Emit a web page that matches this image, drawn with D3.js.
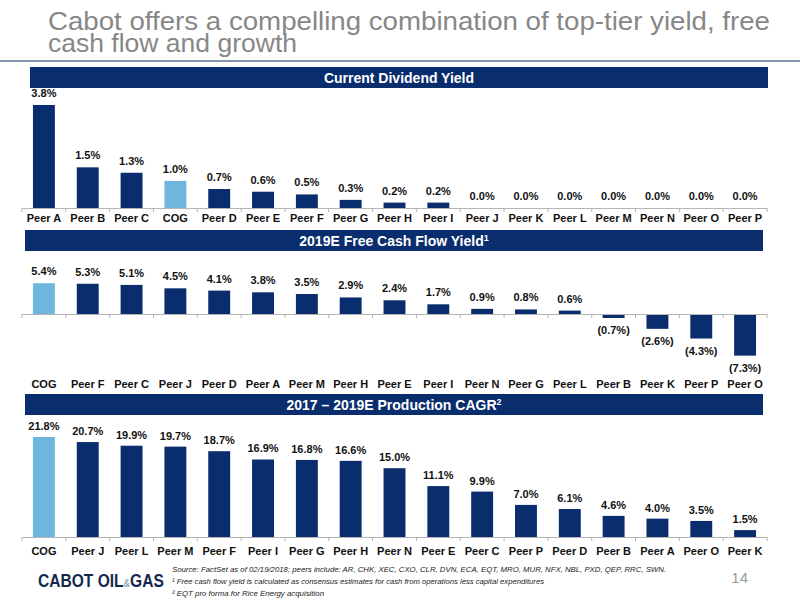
<!DOCTYPE html>
<html>
<head>
<meta charset="utf-8">
<script src="https://cdn.jsdelivr.net/npm/d3@7"></script>
<style>
  body { margin: 0; background: #fff; }
  svg { display: block; }
  .lbl { font-family: "Liberation Sans", Arial, sans-serif; font-weight: bold; font-size: 11px; fill: #111; }
  .hdr { font-family: "Liberation Sans", Arial, sans-serif; font-weight: bold; font-size: 14px; fill: #fff; }
</style>
</head>
<body>
<svg id="chart" width="800" height="600"></svg>
<script>
// panel 1 - current dividend yield
const divCats = ['Peer A', 'Peer B', 'Peer C', 'COG', 'Peer D', 'Peer E', 'Peer F', 'Peer G', 'Peer H',
    'Peer I', 'Peer J', 'Peer K', 'Peer L', 'Peer M', 'Peer N', 'Peer O', 'Peer P'];
const divVals = [3.8, 1.5, 1.3, 1.0, 0.7, 0.6, 0.5, 0.3, 0.2, 0.2, 0.0, 0.0, 0.0, 0.0, 0.0, 0.0, 0.0];

// panel 2 - 2019E free cash flow yield
const fcfCats = ['COG', 'Peer F', 'Peer C', 'Peer J', 'Peer D', 'Peer A', 'Peer M', 'Peer H', 'Peer E',
    'Peer I', 'Peer N', 'Peer G', 'Peer L', 'Peer B', 'Peer K', 'Peer P', 'Peer O'];
const fcfVals = [5.4, 5.3, 5.1, 4.5, 4.1, 3.8, 3.5, 2.9, 2.4, 1.7, 0.9, 0.8, 0.6, -0.7, -2.6, -4.3, -7.3];

// panel 3 - 2017-2019E production CAGR
const cagrCats = ['COG', 'Peer J', 'Peer L', 'Peer M', 'Peer F', 'Peer I', 'Peer G', 'Peer H', 'Peer N',
    'Peer E', 'Peer C', 'Peer P', 'Peer D', 'Peer B', 'Peer A', 'Peer O', 'Peer K'];
const cagrVals = [21.8, 20.7, 19.9, 19.7, 18.7, 16.9, 16.8, 16.6, 15.0, 11.1, 9.9, 7.0, 6.1, 4.6, 4.0, 3.5, 1.5];

const navy = '#0a2d6e';
const cogBlue = '#6fb6de';
const sans = '"Liberation Sans", Arial, sans-serif';

const svg = d3.select('#chart');

// title
const title = svg.append('g')
    .style('font-family', sans)
    .style('font-size', '25px')
    .attr('fill', '#878787');
title.append('text').attr('x', 48).attr('y', 30)
    .attr('textLength', 722).attr('lengthAdjust', 'spacingAndGlyphs')
    .text('Cabot offers a compelling combination of top-tier yield, free');
title.append('text').attr('x', 48).attr('y', 52)
    .attr('textLength', 249).attr('lengthAdjust', 'spacingAndGlyphs')
    .text('cash flow and growth');

svg.append('line')
    .attr('x1', 0).attr('x2', 800).attr('y1', 61).attr('y2', 61)
    .attr('stroke', '#5a7391').attr('stroke-width', 1.5);

const fmt = (v) => v < 0 ? '(' + Math.abs(v).toFixed(1) + '%)' : v.toFixed(1) + '%';

function panel(opts) {
    const g = svg.append('g');

    // header bar
    g.append('rect')
        .attr('x', opts.hdrX[0]).attr('y', opts.hdrTop)
        .attr('width', opts.hdrX[1] - opts.hdrX[0]).attr('height', 21)
        .attr('fill', navy);
    const ht = g.append('text').attr('class', 'hdr')
        .attr('x', (opts.hdrX[0] + opts.hdrX[1]) / 2).attr('y', opts.hdrTop + 15.5)
        .attr('text-anchor', 'middle')
        .text(opts.title);
    if (opts.sup) {
        ht.append('tspan').attr('font-size', '9px').attr('dy', -5).text(opts.sup);
    }

    const x = d3.scaleBand().domain(opts.cats).range([22, 767]).padding(0.5).paddingOuter(0.25);
    const y = d3.scaleLinear().domain(opts.domain).range(opts.range);
    const data = opts.cats.map((c, i) => ({cat: c, value: opts.vals[i]}));

    g.selectAll('.bar')
        .data(data)
        .enter()
        .append('rect')
        .attr('class', 'bar')
        .attr('x', d => x(d.cat))
        .attr('width', x.bandwidth())
        .attr('y', d => y(Math.max(0, d.value)))
        .attr('height', d => Math.abs(y(d.value) - y(0)))
        .attr('fill', d => d.cat === 'COG' ? cogBlue : navy);

    // value labels
    g.selectAll('.val')
        .data(data)
        .enter()
        .append('text')
        .attr('class', 'lbl')
        .attr('text-anchor', 'middle')
        .attr('x', d => x(d.cat) + x.bandwidth() / 2)
        .attr('y', d => d.value < 0 ? y(d.value) + 16 : y(d.value) - opts.gap)
        .text(d => fmt(d.value));

    // baseline with ticks between categories
    const base = y(0);
    const axis = g.append('g').attr('transform', `translate(0,${base})`)
        .call(d3.axisBottom(x).tickSize(0).tickFormat(''));
    axis.select('.domain').attr('stroke', '#b5b5b5');
    const step = x.step();
    const x0 = x.range()[0];
    g.selectAll('.tk')
        .data(d3.range(opts.cats.length + 1))
        .enter()
        .append('line')
        .attr('x1', i => x0 + i * step).attr('x2', i => x0 + i * step)
        .attr('y1', base).attr('y2', base + 4)
        .attr('stroke', '#b5b5b5');

    // category labels
    g.selectAll('.cat')
        .data(data)
        .enter()
        .append('text')
        .attr('class', 'lbl')
        .attr('text-anchor', 'middle')
        .attr('x', d => x(d.cat) + x.bandwidth() / 2)
        .attr('y', opts.catY)
        .text(d => d.cat);
}

panel({title: 'Current Dividend Yield', hdrX: [30, 768], hdrTop: 67, cats: divCats, vals: divVals,
    domain: [0, 3.8], range: [208, 105], gap: 8, catY: 222});
panel({title: '2019E Free Cash Flow Yield', sup: '1', hdrX: [25, 763], hdrTop: 230, cats: fcfCats, vals: fcfVals,
    domain: [0, 5.4], range: [314, 283.2], gap: 8, catY: 388});
panel({title: '2017 \u2013 2019E Production CAGR', sup: '2', hdrX: [25, 763], hdrTop: 394, cats: cagrCats, vals: cagrVals,
    domain: [0, 21.8], range: [537, 437], gap: 7, catY: 555});

// footer logo, squeezed horizontally
const logo = svg.append('text')
    .attr('transform', 'translate(38,587) scale(0.82,1)')
    .style('font-family', sans)
    .style('font-weight', 'bold')
    .style('font-size', '19px')
    .attr('fill', '#13284f');
logo.append('tspan').text('CABOT OIL');
logo.append('tspan').attr('font-size', '11px').attr('fill', '#8aa9c8').text('&');
logo.append('tspan').text('GAS');

const notes = [
    'Source: FactSet as of 02/19/2018; peers include: AR, CHK, XEC, CXO, CLR, DVN, ECA, EQT, MRO, MUR, NFX, NBL, PXD, QEP, RRC, SWN.',
    '\u00b9 Free cash flow yield is calculated as consensus estimates for cash from operations less capital expenditures',
    '\u00b2 EQT pro forma for Rice Energy acquisition'
];
const noteLen = [494, 372, 152];
svg.append('g')
    .style('font-family', sans)
    .style('font-style', 'italic')
    .style('font-size', '8px')
    .attr('fill', '#222')
    .selectAll('text')
    .data(notes)
    .enter()
    .append('text')
    .attr('x', 172)
    .attr('y', (d, i) => 572 + i * 12)
    .attr('textLength', (d, i) => noteLen[i]).attr('lengthAdjust', 'spacingAndGlyphs')
    .text(d => d);

svg.append('text')
    .attr('x', 748).attr('y', 583)
    .attr('text-anchor', 'end')
    .style('font-family', sans)
    .style('font-size', '15px')
    .attr('fill', '#999')
    .text('14');
</script>
</body>
</html>
